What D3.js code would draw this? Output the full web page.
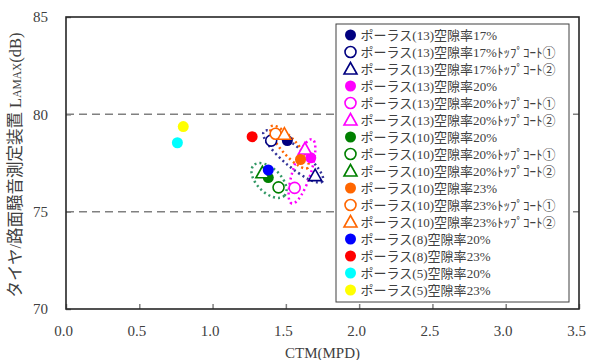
<!DOCTYPE html>
<html lang="ja">
<head>
<meta charset="UTF-8">
<title>CTM - LAMAX</title>
<script src="https://cdnjs.cloudflare.com/ajax/libs/d3/7.8.2/d3.min.js"></script>
<style>
    body { margin: 0; background: #fff; }
    .axis text { font-family: 'Liberation Serif', serif; font-size: 15px; fill: #404040; }
    .legend-text { font-family: 'Liberation Serif', 'Noto Sans CJK JP', serif; font-size: 13px; fill: #404040; }
    .title { font-family: 'Liberation Serif', 'Noto Sans CJK JP', serif; font-size: 16.5px; fill: #404040; }
</style>
</head>
<body>
<div id="chart"></div>
<script>
    // series (one point each), in legend order
    const seriesNames = [
        'ポーラス(13)空隙率17%',
        'ポーラス(13)空隙率17%ﾄｯﾌﾟｺｰﾄ①',
        'ポーラス(13)空隙率17%ﾄｯﾌﾟｺｰﾄ②',
        'ポーラス(13)空隙率20%',
        'ポーラス(13)空隙率20%ﾄｯﾌﾟｺｰﾄ①',
        'ポーラス(13)空隙率20%ﾄｯﾌﾟｺｰﾄ②',
        'ポーラス(10)空隙率20%',
        'ポーラス(10)空隙率20%ﾄｯﾌﾟｺｰﾄ①',
        'ポーラス(10)空隙率20%ﾄｯﾌﾟｺｰﾄ②',
        'ポーラス(10)空隙率23%',
        'ポーラス(10)空隙率23%ﾄｯﾌﾟｺｰﾄ①',
        'ポーラス(10)空隙率23%ﾄｯﾌﾟｺｰﾄ②',
        'ポーラス(8)空隙率20%',
        'ポーラス(8)空隙率23%',
        'ポーラス(5)空隙率20%',
        'ポーラス(5)空隙率23%'
    ];
    const seriesColors = ['#000080', '#000080', '#000080', '#ff00ff', '#ff00ff', '#ff00ff',
        '#008000', '#008000', '#008000', '#ff6600', '#ff6600', '#ff6600',
        '#0000ff', '#ff0000', '#00ffff', '#ffff00'];
    const seriesShapes = ['dot', 'ring', 'tri', 'dot', 'ring', 'tri', 'dot', 'ring', 'tri',
        'dot', 'ring', 'tri', 'dot', 'dot', 'dot', 'dot'];
    const ctmValues = [1.51, 1.40, 1.70, 1.67, 1.56, 1.63, 1.38, 1.45, 1.34, 1.60, 1.43, 1.49, 1.38, 1.27, 0.76, 0.80];
    const lamaxValues = [78.65, 78.65, 76.85, 77.77, 76.22, 78.22, 76.75, 76.25, 77.0, 77.68, 79.0, 78.98, 77.14, 78.85, 78.54, 79.37];

    const xTicks = [0, 0.5, 1.0, 1.5, 2.0, 2.5, 3.0, 3.5];
    const yTicks = [70, 75, 80, 85];
    const gridLines = [75, 80];

    // hand drawn dotted rings: ends of the long axis (CTM, LAMAX)
    const ringColors = ['#333399', '#ff6600', '#ff00ff', '#339966'];
    const ringStart = [[1.35, 79.12], [1.40, 79.38], [1.68, 78.72], [1.28, 77.38]];
    const ringEnd = [[1.75, 76.55], [1.65, 77.25], [1.54, 75.42], [1.49, 75.82]];
    const ringWidth = [10, 8, 9, 12];

    const width = 589;
    const height = 360;
    const padLeft = 66, padRight = 579, padTop = 17, padBottom = 309;
    const legendFont = 13;

    const svg = d3.select('#chart').append('svg')
        .attr('width', width).attr('height', height);

    const xScale = d3.scaleLinear().domain([0, 3.5]).range([padLeft, padRight]);
    const yScale = d3.scaleLinear().domain([70, 85]).range([padBottom, padTop]);

    // grid
    svg.selectAll('.grid').data(gridLines).enter().append('line')
        .attr('class', 'grid')
        .attr('x1', padLeft).attr('x2', padRight)
        .attr('y1', d => yScale(d)).attr('y2', d => yScale(d))
        .style('stroke', '#808080').style('stroke-width', 1.5)
        .style('stroke-dasharray', '8,5');

    // axes
    const xAxis = d3.axisBottom(xScale).tickValues(xTicks)
        .tickFormat(d3.format('.1f')).tickSizeInner(-5).tickSizeOuter(0).tickPadding(16);
    const gx = svg.append('g').attr('class', 'axis')
        .attr('transform', `translate(0,${padBottom})`).call(xAxis);
    gx.select('.domain').remove();
    gx.selectAll('line').style('stroke', '#808080').style('stroke-width', 1.5);
    gx.selectAll('text').attr('dx', -3);

    const yAxis = d3.axisLeft(yScale).tickValues(yTicks)
        .tickSizeInner(-5).tickSizeOuter(0).tickPadding(18);
    const gy = svg.append('g').attr('class', 'axis')
        .attr('transform', `translate(${padLeft},0)`).call(yAxis);
    gy.select('.domain').remove();
    gy.selectAll('line').style('stroke', '#808080').style('stroke-width', 1.5);

    // frame
    svg.append('rect')
        .attr('x', padLeft).attr('y', padTop)
        .attr('width', padRight - padLeft).attr('height', padBottom - padTop)
        .style('fill', 'none').style('stroke', '#262626').style('stroke-width', 1.6);

    // dotted rings
    const rings = ringColors.map((c, i) => {
        const x1 = xScale(ringStart[i][0]), y1 = yScale(ringStart[i][1]);
        const x2 = xScale(ringEnd[i][0]), y2 = yScale(ringEnd[i][1]);
        return {
            cx: (x1 + x2) / 2, cy: (y1 + y2) / 2,
            rx: Math.hypot(x2 - x1, y2 - y1) / 2, ry: ringWidth[i],
            angle: Math.atan2(y2 - y1, x2 - x1) * 180 / Math.PI, color: c
        };
    });
    svg.selectAll('.ring').data(rings).enter().append('ellipse')
        .attr('class', 'ring')
        .attr('transform', d => `translate(${d.cx},${d.cy}) rotate(${d.angle})`)
        .attr('rx', d => d.rx).attr('ry', d => d.ry)
        .style('fill', 'none').style('stroke', d => d.color)
        .style('stroke-width', 2.5).style('stroke-dasharray', '2,3');

    // marker drawing
    const drawMarker = (g, shape, color) => {
        if (shape === 'dot') {
            g.append('circle').attr('r', 5.5).style('fill', color);
        } else if (shape === 'ring') {
            g.append('circle').attr('r', 5.5).style('fill', '#fff')
                .style('stroke', color).style('stroke-width', 1.6);
        } else {
            g.append('path').attr('d', 'M0,-6.5L6.5,5L-6.5,5Z').style('fill', '#fff')
                .style('stroke', color).style('stroke-width', 1.6);
        }
    };

    const points = seriesNames.map((n, i) => ({ name: n, x: ctmValues[i], y: lamaxValues[i], color: seriesColors[i], shape: seriesShapes[i] }));

    svg.selectAll('.pt').data(points).enter().append('g')
        .attr('class', 'pt')
        .attr('transform', d => `translate(${xScale(d.x)},${yScale(d.y)})`)
        .each(function (d) { drawMarker(d3.select(this), d.shape, d.color); });

    // mincho-like advance: half width chars take half an em
    const textWidth = (s) => {
        let w = 0;
        for (const ch of s) {
            const c = ch.codePointAt(0);
            w += (c < 0x2000 || (c >= 0xff61 && c <= 0xff9f)) ? 0.5 : 1;
        }
        return w * legendFont;
    };

    // legend
    const legend = svg.append('g').attr('class', 'legend');
    legend.append('rect')
        .attr('x', 336).attr('y', 24).attr('width', 233).attr('height', 278)
        .style('fill', '#fff').style('stroke', '#404040').style('stroke-width', 1);

    const rows = legend.selectAll('.legend-row').data(points).enter().append('g')
        .attr('class', 'legend-row')
        .attr('transform', (d, i) => `translate(350.5,${35 + i * 17})`);
    rows.each(function (d) { drawMarker(d3.select(this), d.shape, d.color); });
    rows.append('text').attr('class', 'legend-text')
        .attr('x', 10).attr('dy', '0.35em')
        .attr('textLength', d => textWidth(d.name))
        .attr('lengthAdjust', 'spacing')
        .text(d => d.name);

    // axis titles
    svg.append('text')
        .attr('x', (padLeft + padRight) / 2).attr('y', 358)
        .style('text-anchor', 'middle')
        .style('font-family', "'Liberation Serif', serif").style('font-size', '15px').style('fill', '#404040')
        .text('CTM(MPD)');

    const yTitle = svg.append('text').attr('class', 'title')
        .attr('transform', 'translate(21,165) rotate(-90)')
        .style('text-anchor', 'middle');
    yTitle.append('tspan').text('タイヤ/路面騒音測定装置 ');
    yTitle.append('tspan').text('L');
    yTitle.append('tspan').style('font-size', '11.5px').text('AMAX');
    yTitle.append('tspan').text('(dB)');
</script>
</body>
</html>
